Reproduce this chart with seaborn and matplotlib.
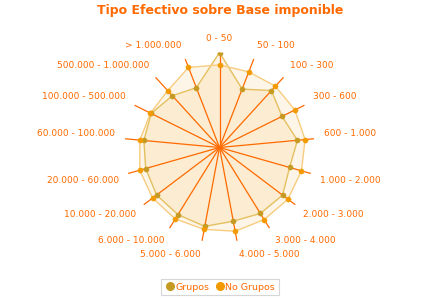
import numpy as np
import pandas as pd
import matplotlib
matplotlib.use("Agg")
import matplotlib.pyplot as plt
import seaborn as sns
from matplotlib.lines import Line2D

categories = ["0 - 50", "50 - 100", "100 - 300", "300 - 600", "600 - 1.000",
              "1.000 - 2.000", "2.000 - 3.000", "3.000 - 4.000", "4.000 - 5.000",
              "5.000 - 6.000", "6.000 - 10.000", "10.000 - 20.000", "20.000 - 60.000",
              "60.000 - 100.000", "100.000 - 500.000", "500.000 - 1.000.000", "> 1.000.000"]
grupos = [94.8, 62.5, 76.9, 69.7, 78.1, 72.7, 78.9, 77.4, 74.8, 80.1, 78.8, 78.7,
          76.6, 75.8, 76.2, 69.9, 64.0]
no_grupos = [82.5, 80.9, 82.8, 84.0, 85.8, 85.0, 85.6, 84.6, 85.0, 83.1, 83.9, 83.7,
             82.8, 79.8, 77.0, 76.7, 85.7]
series_names = ["Grupos", "No Grupos"]

ORANGE = "#ff6a00"
C_GRUPOS = "#c49a22"
C_NOGRUPOS = "#f39a00"

sns.set_theme(style="white")
plt.rcParams['font.family'] = ['DejaVu Sans']

fig = plt.figure(figsize=(4.4, 3.0), dpi=100)
ax = fig.add_axes([0.283, 0.1917, 0.4318, 0.6333], projection="polar")
ax.set_theta_zero_location("N")
ax.set_theta_direction(-1)

n = len(categories)
angles = np.arange(n) * 2 * np.pi / n
rmax = max(max(grupos), max(no_grupos))

fill_cols = {"Grupos": "#f5bd5c", "No Grupos": "#f8c870"}
line_cols = {"Grupos": "#e4c060", "No Grupos": "#f8cc80"}
mark_cols = {"Grupos": C_GRUPOS, "No Grupos": C_NOGRUPOS}

for name, vals in zip(series_names, [grupos, no_grupos]):
    th = np.append(angles, angles[0])
    rr = np.append(vals, vals[0])
    ax.fill(th, rr, color=fill_cols[name], alpha=0.16, zorder=1, lw=0)
    sns.lineplot(x=th, y=rr, sort=False, ax=ax, color=line_cols[name],
                 lw=1.0, zorder=3, estimator=None)
for name, vals in zip(series_names, [grupos, no_grupos]):
    sns.scatterplot(x=angles, y=vals, ax=ax, color=mark_cols[name], s=14,
                    edgecolor=mark_cols[name], linewidth=0.3, zorder=5, legend=False)

ax.set_ylim(0, rmax)
ax.set_xticks(angles)
ax.set_xticklabels([])
ax.set_yticks([])
ax.xaxis.grid(True, color=ORANGE, lw=0.9)
ax.yaxis.grid(False)
ax.spines["polar"].set_visible(False)
ax.set_axisbelow(False)
for gl in ax.xaxis.get_gridlines():
    gl.set_zorder(2)
ax.set_facecolor("none")
ax.set_xlabel("")
ax.set_ylabel("")

rl = rmax * 1.1
for ang, lab in zip(angles, categories):
    s, c = np.sin(ang), np.cos(ang)
    if abs(s) < 1e-6:
        ha = "center"
    else:
        ha = "left" if s > 0 else "right"
    va = "bottom" if c > 1e-6 else ("top" if c < -1e-6 else "center")
    ax.text(ang, rl, lab, ha=ha, va=va, fontsize=6.5, color=ORANGE, clip_on=False)

fig.text(0.5, 0.966, "Tipo Efectivo sobre Base imponible", ha="center", va="center",
         fontsize=9, fontweight="bold", color=ORANGE)

handles = [Line2D([0], [0], marker="o", ls="", color=mark_cols[nm], markersize=5.5) for nm in series_names]
leg = fig.legend(handles, series_names, loc="lower center", bbox_to_anchor=(0.5, 0.0),
                 ncol=2, fontsize=6.8, frameon=True, handletextpad=0.1, columnspacing=0.6,
                 borderpad=0.4, handlelength=1.0, fancybox=False)
leg.get_frame().set_edgecolor("#cccccc")
leg.get_frame().set_linewidth(0.8)
for t in leg.get_texts():
    t.set_color(ORANGE)

fig.savefig("out.png", dpi=100, facecolor="white")
